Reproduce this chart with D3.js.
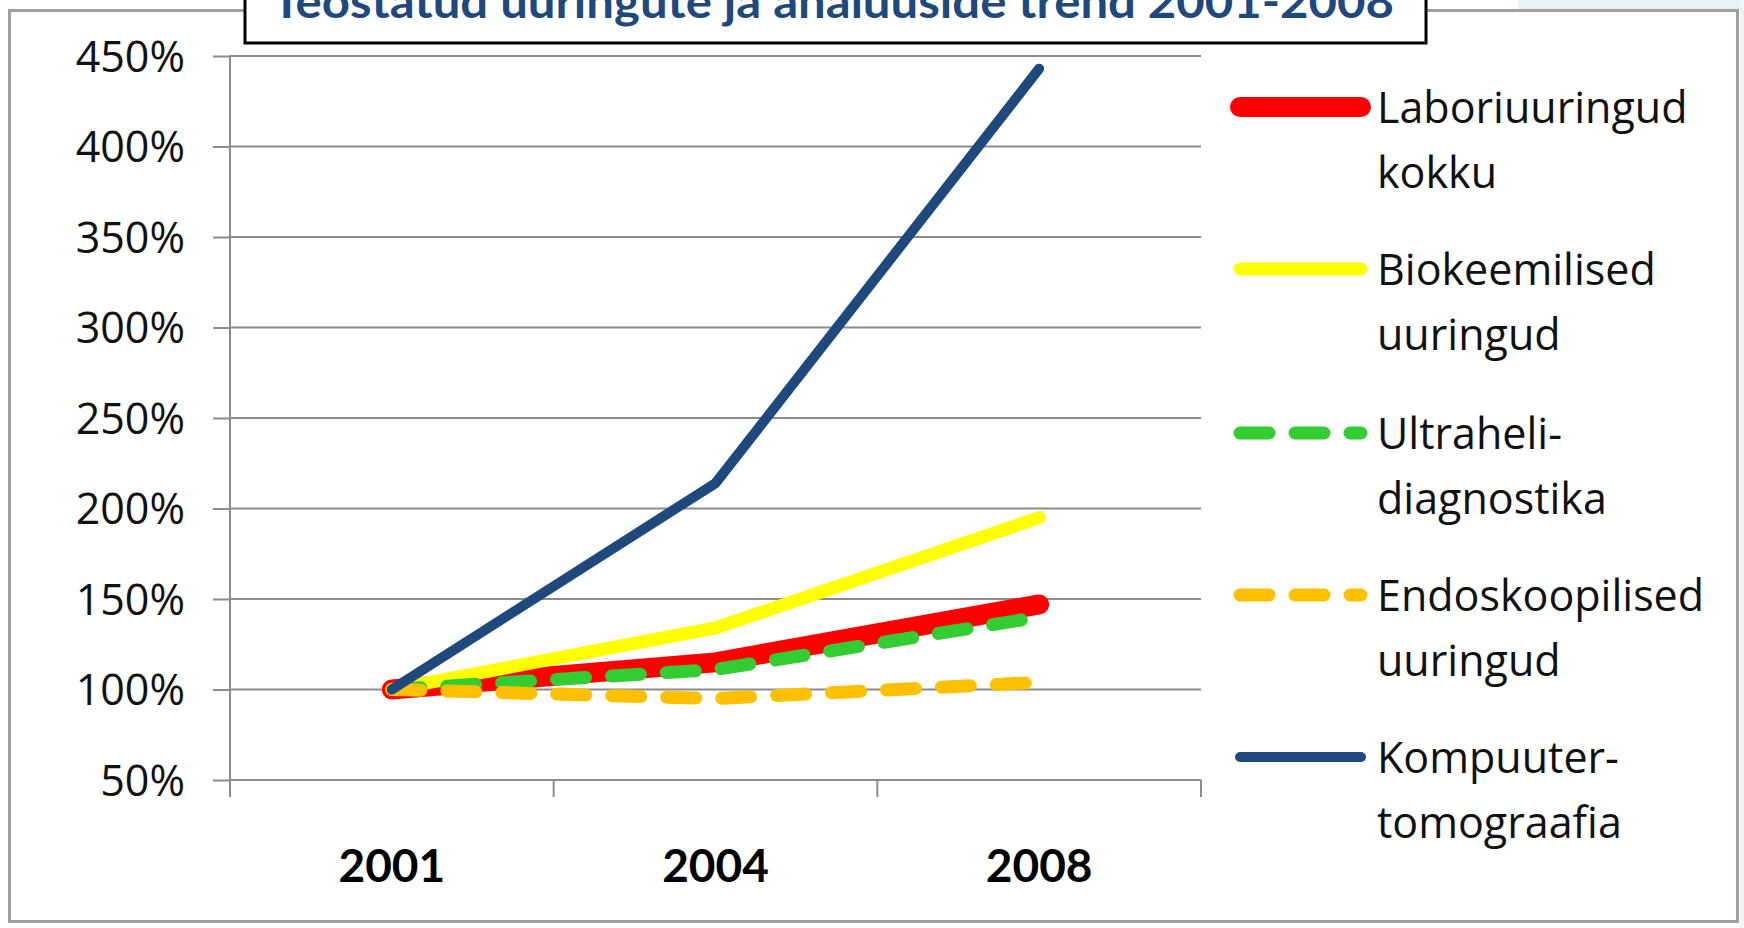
<!DOCTYPE html>
<html>
<head>
<meta charset="utf-8">
<script src="https://cdn.jsdelivr.net/npm/d3@7"></script>
<style>
  html, body { margin: 0; padding: 0; background: #ffffff; }
  svg { display: block; }
</style>
</head>
<body>
<svg id="chart" width="1744" height="928"></svg>
<script>
// ---- data ----
const titleText = "Teostatud uuringute ja analüüside trend 2001-2008";
const years = ["2001", "2004", "2008"];
const yTicks = [0.5, 1.0, 1.5, 2.0, 2.5, 3.0, 3.5, 4.0, 4.5];
const laboriuuringudKokku = [1.00, 1.15, 1.47];
const biokeemilisedUuringud = [1.00, 1.34, 1.95];
const ultraheliDiagnostika = [1.00, 1.11, 1.40];
const endoskoopilisedUuringud = [1.00, 0.95, 1.04];
const kompuuterTomograafia = [1.00, 2.14, 4.43];
const seriesLabels = [
  ["Laboriuuringud", "kokku"],
  ["Biokeemilised", "uuringud"],
  ["Ultraheli-", "diagnostika"],
  ["Endoskoopilised", "uuringud"],
  ["Kompuuter-", "tomograafia"]
];

// ---- styles ----
const seriesStyles = [
  { color: "#FF0000", width: 20, dash: null },
  { color: "#FFFF00", width: 13, dash: null },
  { color: "#33CC33", width: 13, dash: "29,26" },
  { color: "#FFC000", width: 13, dash: "29,26" },
  { color: "#1F497D", width: 10, dash: null }
];
const seriesValues = [laboriuuringudKokku, biokeemilisedUuringud, ultraheliDiagnostika, endoskoopilisedUuringud, kompuuterTomograafia];

const svg = d3.select("#chart");
const font = "Lato, 'Open Sans', sans-serif";
const textFont = "'Open Sans', Lato, sans-serif";

// background bits
svg.append("rect").attr("x", 0).attr("y", 0).attr("width", 1744).attr("height", 928).attr("fill", "#ffffff");
svg.append("rect").attr("x", 1518).attr("y", 0).attr("width", 226).attr("height", 9).attr("fill", "#e4f3f3");
svg.append("rect").attr("x", 1740).attr("y", 0).attr("width", 4).attr("height", 928).attr("fill", "#eef6f6");

// outer frame
svg.append("rect")
  .attr("x", 9.5).attr("y", 10.5).attr("width", 1728).attr("height", 911)
  .attr("fill", "#ffffff").attr("stroke", "#a0a0a0").attr("stroke-width", 3);

// scales
const x = d3.scaleBand().domain(years).range([230, 1201]);
const y = d3.scaleLinear().domain([0.5, 4.5]).range([780, 56]);
const xc = d => x(d) + x.bandwidth() / 2;

// gridlines
svg.append("g")
  .selectAll("line")
  .data(yTicks)
  .join("line")
  .attr("x1", 230).attr("x2", 1201)
  .attr("y1", d => y(d)).attr("y2", d => y(d))
  .attr("stroke", "#8c8c8c").attr("stroke-width", 2);

// y axis
const yAxis = svg.append("g")
  .attr("transform", "translate(230,0)")
  .call(d3.axisLeft(y).tickValues(yTicks).tickSize(17).tickPadding(28)
    .tickFormat(d => Math.round(d * 100) + "%"));
yAxis.select(".domain").attr("stroke", "#8c8c8c").attr("stroke-width", 2)
  .attr("d", "M0," + y(4.5) + "V" + (y(0.5) + 17));
yAxis.selectAll(".tick line").attr("stroke", "#8c8c8c").attr("stroke-width", 2);
yAxis.selectAll(".tick text")
  .attr("font-family", textFont).attr("font-size", 43).attr("fill", "#111")
  .attr("dy", "0.36em");

// x axis
const xAxis = svg.append("g")
  .attr("transform", "translate(0," + y(0.5) + ")")
  .call(d3.axisBottom(x).tickSize(0).tickPadding(0));
xAxis.select(".domain").remove();
xAxis.selectAll(".tick text")
  .attr("font-family", font).attr("font-size", 46).attr("font-weight", "bold")
  .attr("fill", "#000").attr("dy", null).attr("y", 102);
// x tick marks at category boundaries
const boundaries = years.map(d => x(d)).concat([x(years[years.length - 1]) + x.bandwidth()]);
svg.append("g")
  .selectAll("line")
  .data(boundaries)
  .join("line")
  .attr("x1", d => d).attr("x2", d => d)
  .attr("y1", y(0.5)).attr("y2", y(0.5) + 17)
  .attr("stroke", "#8c8c8c").attr("stroke-width", 2);

// lines
const line = d3.line().x((d, i) => xc(years[i])).y(d => y(d));
svg.append("g")
  .selectAll("path")
  .data(seriesValues)
  .join("path")
  .attr("d", d => line(d))
  .attr("fill", "none")
  .attr("stroke", (d, i) => seriesStyles[i].color)
  .attr("stroke-width", (d, i) => seriesStyles[i].width)
  .attr("stroke-dasharray", (d, i) => seriesStyles[i].dash)
  .attr("stroke-linecap", "round")
  .attr("stroke-linejoin", "round");

// legend
const legendY = [107, 269, 433, 595, 757];
const leg = svg.append("g")
  .selectAll("g")
  .data(seriesLabels)
  .join("g")
  .attr("transform", (d, i) => "translate(0," + legendY[i] + ")");
leg.append("line")
  .attr("x1", 1240).attr("x2", 1361).attr("y1", 0).attr("y2", 0)
  .attr("stroke", (d, i) => seriesStyles[i].color)
  .attr("stroke-width", (d, i) => seriesStyles[i].width)
  .attr("stroke-dasharray", (d, i) => seriesStyles[i].dash)
  .attr("stroke-linecap", "round");
leg.each(function(d) {
  const g = d3.select(this);
  d.forEach((t, j) => {
    g.append("text")
      .attr("x", 1377).attr("y", 16 + j * 65)
      .attr("font-family", textFont).attr("font-size", 43).attr("fill", "#111")
      .text(t);
  });
});

// title box
svg.append("rect")
  .attr("x", 245).attr("y", -20).attr("width", 1181).attr("height", 63)
  .attr("fill", "#ffffff").attr("stroke", "#000").attr("stroke-width", 3);
svg.append("text")
  .attr("x", 833).attr("y", 18)
  .attr("text-anchor", "middle")
  .attr("font-family", font).attr("font-size", 46).attr("font-weight", "bold")
  .attr("fill", "#1F497D")
  .attr("textLength", 1122).attr("lengthAdjust", "spacingAndGlyphs")
  .text(titleText);
</script>
</body>
</html>
